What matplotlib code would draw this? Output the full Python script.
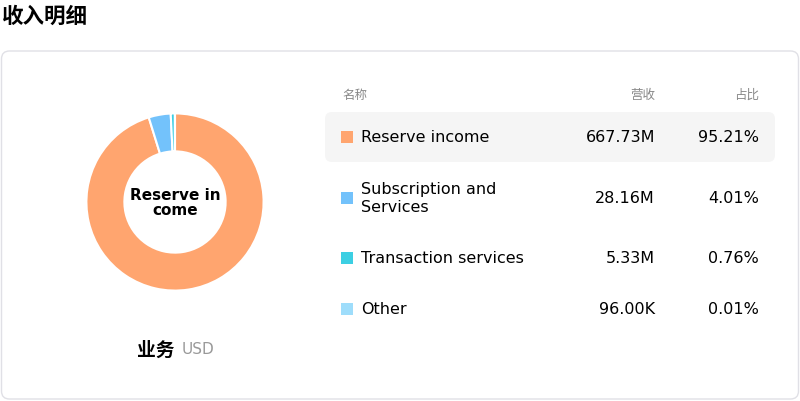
import matplotlib.pyplot as plt
from matplotlib.patches import FancyBboxPatch, Rectangle

plt.rcParams['font.family'] = ['Noto Sans CJK SC', 'DejaVu Sans']

names = ["Reserve income", "Subscription and\nServices", "Transaction services", "Other"]
revenue = [667.73, 28.16, 5.33, 0.096]
revenue_labels = ["667.73M", "28.16M", "5.33M", "96.00K"]
share_labels = ["95.21%", "4.01%", "0.76%", "0.01%"]
colors = ["#FFA56F", "#73C2FB", "#3CCFE3", "#9EDDFB"]

fig = plt.figure(figsize=(8, 4.02), dpi=100)
bg = fig.add_axes([0, 0, 1, 1])
bg.set_xlim(0, 800)
bg.set_ylim(402, 0)
bg.axis('off')

fig.text(2 / 800, 1 - 16 / 402, "收入明细", fontsize=15.5, fontweight='bold', va='center')

bg.add_patch(FancyBboxPatch((1.5, 52), 797, 348, boxstyle="round,pad=0,rounding_size=8",
                            fc='white', ec='#e0e0e6', lw=1))
bg.add_patch(FancyBboxPatch((325, 113), 450, 50, boxstyle="round,pad=0,rounding_size=7",
                            fc='#f5f5f5', ec='none'))

# header
bg.text(342, 95, "名称", fontsize=9, color='#888888', va='center')
bg.text(655, 95, "营收", fontsize=9, color='#888888', va='center', ha='right')
bg.text(759, 95, "占比", fontsize=9, color='#888888', va='center', ha='right')

rows_y = [138, 199, 259, 310]
for y, n, r, s, c in zip(rows_y, names, revenue_labels, share_labels, colors):
    bg.add_patch(Rectangle((341, y - 6), 12, 12, fc=c, ec='none'))
    bg.text(361, y, n, fontsize=11.5, va='center', family='DejaVu Sans', linespacing=1.25)
    bg.text(655, y, r, fontsize=11.5, va='center', ha='right', family='DejaVu Sans')
    bg.text(759, y, s, fontsize=11.5, va='center', ha='right', family='DejaVu Sans')

# donut
size = 226
ax = fig.add_axes([(175 - size / 2) / 800, 1 - (203 + size / 2) / 402, size / 800, size / 402])
ax.pie(revenue, colors=colors, startangle=90, counterclock=False, radius=0.98,
       wedgeprops=dict(width=0.42, edgecolor='white', linewidth=1.5))
ax.set_aspect('equal')
ax.text(0, 0, "Reserve in\ncome", ha='center', va='center', fontsize=11,
        fontweight='bold', family='DejaVu Sans', linespacing=1.0)

bg.text(175, 350, "业务", fontsize=13.5, fontweight='bold', ha='right', va='center')
bg.text(182, 350, "USD", fontsize=11, color='#999999', ha='left', va='center', family='DejaVu Sans')

fig.savefig("out.png", dpi=100)
